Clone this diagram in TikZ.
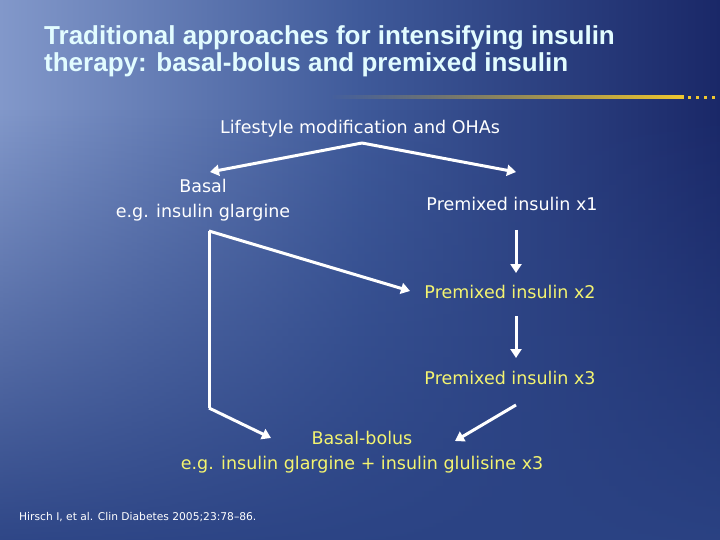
\documentclass[tikz,border=0pt]{standalone}
\usepackage{fontspec}
\setmainfont{DejaVu Sans}
\newfontfamily\titlefont{Liberation Sans}
\usetikzlibrary{arrows.meta,fadings}
\definecolor{bgL}{HTML}{8298CA}
\definecolor{bgM}{HTML}{3F5A9A}
\definecolor{bgR}{HTML}{1A2868}
\definecolor{bgB}{HTML}{2B4384}
\definecolor{titlec}{HTML}{E2FCFF}
\definecolor{yel}{HTML}{F4F470}
\definecolor{gold}{HTML}{F0C830}
\tikzset{
  wtext/.style={text=white,font=\fontsize{17.5}{25}\selectfont,align=center,inner sep=0pt},
  ytext/.style={text=yel,font=\fontsize{17.5}{25}\selectfont,align=center,inner sep=0pt},
  ttext/.style={anchor=base west,text=titlec,font=\titlefont\bfseries\fontsize{26}{30}\selectfont,inner sep=0pt,align=left},
  arr/.style={draw=white,line width=3pt,-{Triangle[length=9pt,width=11pt]}},
  ln/.style={draw=white,line width=3pt},
}
\begin{document}
\begin{tikzpicture}[x=1pt,y=-1pt]
\useasboundingbox (0,0) rectangle (720,540);
% background
\shade[left color=bgL,right color=bgR,middle color=bgM] (0,0) rectangle (720,540);
\fill[bgB,path fading=north] (0,110) rectangle (720,560);
% title
\node[ttext] (title) at (44,45) {Traditional approaches for intensifying insulin};
\node[ttext] (title2) at (44,72) {therapy: basal-bolus and premixed insulin};
% gold line
\fill[gold,path fading=west] (330,95.5) rectangle (684,99);
\foreach \i in {689,697,705,713}{\fill[gold] (\i-1.5,95.8) rectangle (\i+1.5,98.8);}
% nodes
\node[wtext] (life) at (360,129) {Lifestyle modification and OHAs};
\node[wtext] (basal) at (203,200) {Basal\\e.g. insulin glargine};
\node[wtext] (p1) at (512,204) {Premixed insulin x1};
\node[ytext] (p2) at (510,292) {Premixed insulin x2};
\node[ytext] (p3) at (510,378) {Premixed insulin x3};
\node[ytext] (bb) at (362,452) {Basal-bolus\\e.g. insulin glargine + insulin glulisine x3};
\node[anchor=base west,text=white,font=\fontsize{10.7}{12}\selectfont,inner sep=0pt] (ref) at (19,520) {Hirsch I, et al. Clin Diabetes 2005;23:78–86.};
% connectors
\coordinate (top) at (362,143);
\coordinate (bcorner) at (209,231);
\coordinate (bbot) at (209,408);
\coordinate (p3r) at (516,405);
\draw[arr] (top) -- (210,172);
\draw[arr] (top) -- (516,172);
\draw[arr] (516,230) -- (516,273);
\draw[arr] (516,316) -- (516,358);
\draw[arr] (bcorner) -- (410,291);
\draw[ln] (bcorner) -- (bbot);
\draw[arr] (bbot) -- (271,438);
\draw[arr] (p3r) -- (455,441);
\end{tikzpicture}
\end{document}
